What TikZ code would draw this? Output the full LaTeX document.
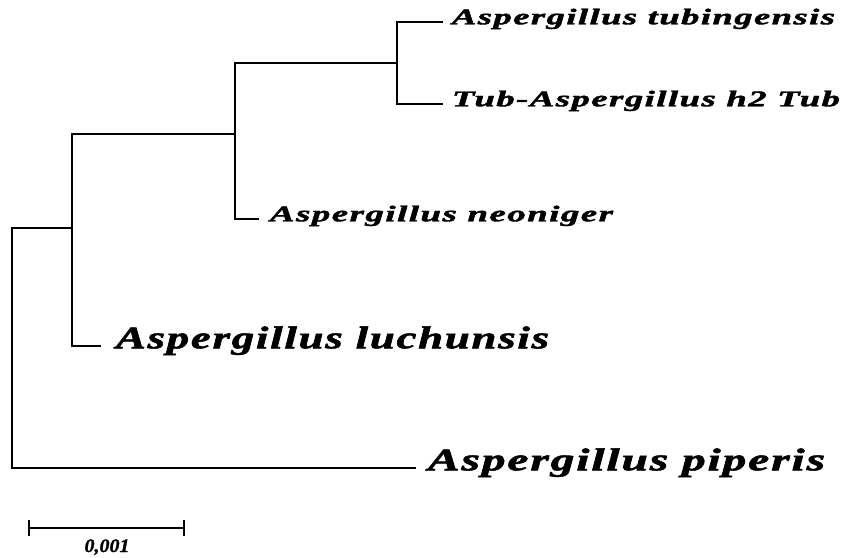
\documentclass[tikz,border=0pt]{standalone}
\usepackage{fontspec}
\usepackage{graphicx}
\setmainfont{Liberation Serif}
\newfontfamily\labf[LetterSpace=4, FakeBold=1.6]{Liberation Serif Bold Italic}
\newfontfamily\numf[FakeBold=1.2]{Liberation Serif Bold Italic}
\newcommand\lab[3]{\resizebox{#1}{\height}{\fontsize{#2}{#2}\selectfont\labf #3}}
\begin{document}
\begin{tikzpicture}[x=1pt,y=-1pt,
  branch/.style={line width=2pt, line join=miter, line cap=rect},
  leaf/.style={anchor=mid west, inner ysep=0pt, outer sep=0pt, text=black}]
\useasboundingbox (0,0) rectangle (846,557);
% leaf labels
\node[leaf, inner xsep=10pt] (t1) at (442,22)  {\lab{383pt}{22.5pt}{Aspergillus tubingensis}};
\node[leaf, inner xsep=10pt] (t2) at (442,104) {\lab{388pt}{22.5pt}{Tub-Aspergillus h2 Tub}};
\node[leaf, inner xsep=12pt] (t3) at (258,219) {\lab{343pt}{22.5pt}{Aspergillus neoniger}};
\node[leaf, inner xsep=16pt] (t4) at (100,346) {\lab{433pt}{31.5pt}{Aspergillus luchunsis}};
\node[leaf, inner xsep=13pt] (t5) at (415,468) {\lab{397pt}{31.5pt}{Aspergillus piperis}};
% internal nodes
\coordinate (c1) at (397,63);
\coordinate (c2) at (235,134);
\coordinate (c3) at (72,228);
\coordinate (r)  at (12,348);
\draw[branch] (c1) |- (t1.mid west);
\draw[branch] (c1) |- (t2.mid west);
\draw[branch] (c2) |- (c1);
\draw[branch] (c2) |- (t3.mid west);
\draw[branch] (c3) |- (c2);
\draw[branch] (c3) |- (t4.mid west);
\draw[branch] (r) |- (c3);
\draw[branch] (r) |- (t5.mid west);
% scale bar
\coordinate (s1) at (29,528);
\coordinate (s2) at (184,528);
\draw[branch, line cap=butt] (s1) -- (s2);
\draw[branch, line cap=butt] ([yshift=-8pt]s1) -- ([yshift=8pt]s1);
\draw[branch, line cap=butt] ([yshift=-8pt]s2) -- ([yshift=8pt]s2);
\node[anchor=base, inner sep=0pt] (sl) at (107,552) {\resizebox{45pt}{\height}{\fontsize{19pt}{19pt}\selectfont\numf 0,001}};
\end{tikzpicture}
\end{document}
